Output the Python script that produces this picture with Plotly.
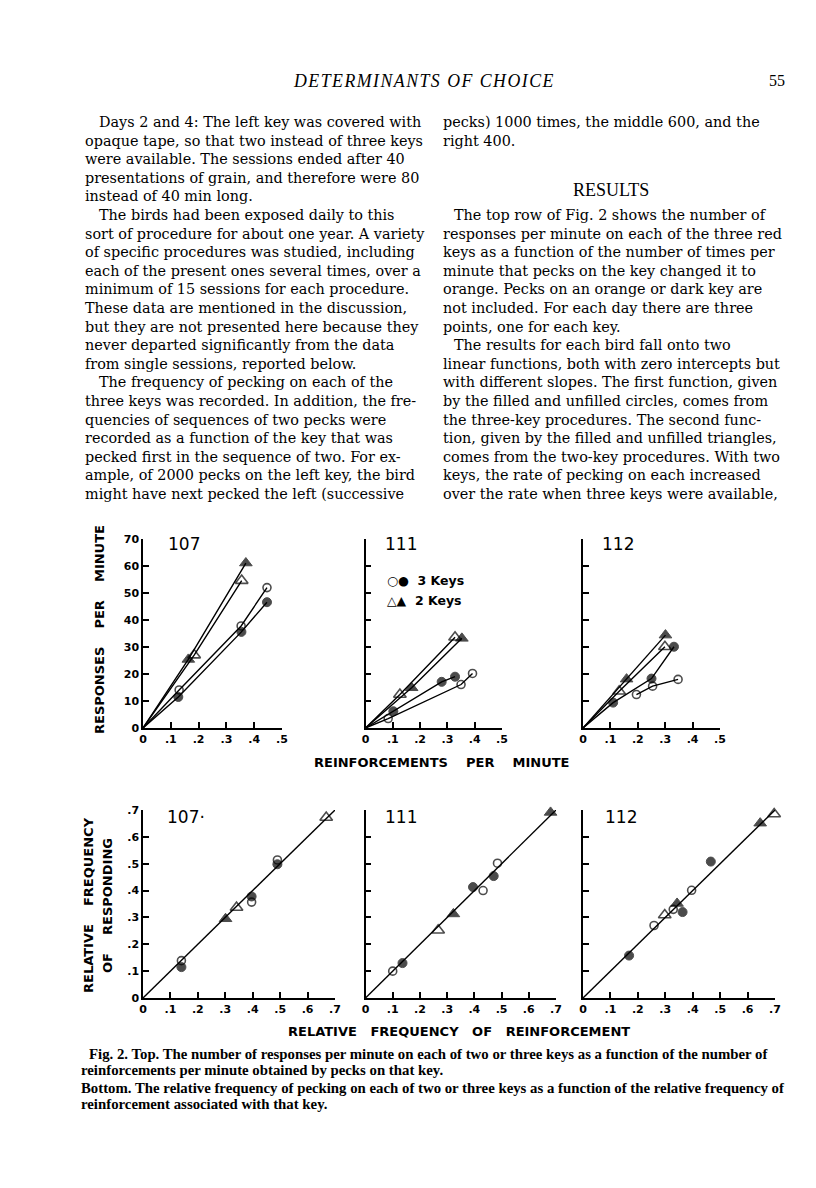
import plotly.graph_objects as go

W, H = 816, 1188

# ---------------- data ----------------
# Top row: responses per minute vs reinforcements per minute (origin included: zero-intercept lines)
t107_tri_filled_x = [0, 0.163, 0.370]; t107_tri_filled_y = [0, 25.4, 61.1]
t107_tri_open_x = [0, 0.184, 0.355];   t107_tri_open_y = [0, 27.0, 54.6]
t107_circ_open_x = [0, 0.130, 0.353, 0.446]; t107_circ_open_y = [0, 14.1, 37.8, 52.0]
t107_circ_filled_x = [0, 0.127, 0.354, 0.446]; t107_circ_filled_y = [0, 11.5, 35.6, 46.6]

t111_tri_open_x = [0, 0.126, 0.328];   t111_tri_open_y = [0, 12.4, 33.6]
t111_tri_filled_x = [0, 0.169, 0.353]; t111_tri_filled_y = [0, 14.9, 33.2]
t111_circ_open_x = [0, 0.083, 0.350, 0.392]; t111_circ_open_y = [0, 3.5, 16.1, 20.2]
t111_circ_filled_x = [0, 0.102, 0.279, 0.328]; t111_circ_filled_y = [0, 6.2, 17.1, 19.0]

t112_tri_filled_x = [0, 0.159, 0.301]; t112_tri_filled_y = [0, 18.1, 34.4]
t112_tri_open_x = [0, 0.132, 0.299];   t112_tri_open_y = [0, 13.6, 30.1]
t112_circ_filled_x = [0, 0.110, 0.250, 0.332]; t112_circ_filled_y = [0, 9.4, 18.3, 30.1]
t112_circ_open_x = [0.195, 0.254, 0.347]; t112_circ_open_y = [12.4, 15.5, 18.0]

# Bottom row: relative frequency of responding vs relative frequency of reinforcement
b107_circ_open_x = [0.140, 0.396, 0.490]; b107_circ_open_y = [0.139, 0.357, 0.514]
b107_circ_filled_x = [0.140, 0.396, 0.490]; b107_circ_filled_y = [0.115, 0.378, 0.498]
b107_tri_open_x = [0.341, 0.668]; b107_tri_open_y = [0.337, 0.672]
b107_tri_filled_x = [0.301, 0.707]; b107_tri_filled_y = [0.295, 0.696]
b107_line = [0, 0.71]

b111_circ_open_x = [0.100, 0.432, 0.485]; b111_circ_open_y = [0.100, 0.400, 0.502]
b111_circ_filled_x = [0.136, 0.395, 0.471]; b111_circ_filled_y = [0.130, 0.413, 0.454]
b111_tri_open_x = [0.267, 0.726]; b111_tri_open_y = [0.252, 0.754]
b111_tri_filled_x = [0.323, 0.680]; b111_tri_filled_y = [0.313, 0.691]
b111_line = [0, 0.74]

b112_circ_open_x = [0.259, 0.329, 0.396]; b112_circ_open_y = [0.270, 0.330, 0.401]
b112_circ_filled_x = [0.168, 0.363, 0.466]; b112_circ_filled_y = [0.158, 0.320, 0.508]
b112_tri_open_x = [0.298, 0.697]; b112_tri_open_y = [0.309, 0.685]
b112_tri_filled_x = [0.343, 0.646]; b112_tri_filled_y = [0.352, 0.651]
b112_line = [0, 0.70]

top_xticks = [0, 0.1, 0.2, 0.3, 0.4, 0.5]
top_xticktext = ["0", ".1", ".2", ".3", ".4", ".5"]
top_yticks = [0, 10, 20, 30, 40, 50, 60, 70]
top_yticktext = ["0", "10", "20", "30", "40", "50", "60", "70"]
bot_ticks = [0, 0.1, 0.2, 0.3, 0.4, 0.5, 0.6, 0.7]
bot_ticktext = ["0", ".1", ".2", ".3", ".4", ".5", ".6", ".7"]

left_col = [
    "Days 2 and 4: The left key was covered with",
    "opaque tape, so that two instead of three keys",
    "were available. The sessions ended after 40",
    "presentations of grain, and therefore were 80",
    "instead of 40 min long.",
    "The birds had been exposed daily to this",
    "sort of procedure for about one year. A variety",
    "of specific procedures was studied, including",
    "each of the present ones several times, over a",
    "minimum of 15 sessions for each procedure.",
    "These data are mentioned in the discussion,",
    "but they are not presented here because they",
    "never departed significantly from the data",
    "from single sessions, reported below.",
    "The frequency of pecking on each of the",
    "three keys was recorded. In addition, the fre-",
    "quencies of sequences of two pecks were",
    "recorded as a function of the key that was",
    "pecked first in the sequence of two. For ex-",
    "ample, of 2000 pecks on the left key, the bird",
    "might have next pecked the left (successive",
]
left_indent = {0, 5, 14}
right_col_a = [
    "pecks) 1000 times, the middle 600, and the",
    "right 400.",
]
right_col_b = [
    "The top row of Fig. 2 shows the number of",
    "responses per minute on each of the three red",
    "keys as a function of the number of times per",
    "minute that pecks on the key changed it to",
    "orange. Pecks on an orange or dark key are",
    "not included. For each day there are three",
    "points, one for each key.",
    "The results for each bird fall onto two",
    "linear functions, both with zero intercepts but",
    "with different slopes. The first function, given",
    "by the filled and unfilled circles, comes from",
    "the three-key procedures. The second func-",
    "tion, given by the filled and unfilled triangles,",
    "comes from the two-key procedures. With two",
    "keys, the rate of pecking on each increased",
    "over the rate when three keys were available,",
]
right_b_indent = {0, 7}
caption = [
    "Fig. 2. Top. The number of responses per minute on each of two or three keys as a function of the number of",
    "reinforcements per minute obtained by pecks on that key.",
    "Bottom. The relative frequency of pecking on each of two or three keys as a function of the relative frequency of",
    "reinforcement associated with that key.",
]

# ---------------- figure ----------------
fig = go.Figure()

# the page body adds an 8px offset; compensate so page positions match
OX, OY = -8, -8

def px(x):
    return (x + OX) / W

def py(y):
    return 1 - (y + OY) / H

STY = {
    "circ_open": dict(symbol="circle-open", size=8, line=dict(width=1.6, color="black"), color="black"),
    "circ_filled": dict(symbol="circle", size=9, color="black", line=dict(width=1, color="black")),
    "tri_open": dict(symbol="triangle-up-open", size=11, line=dict(width=1.6, color="black"), color="black"),
    "tri_filled": dict(symbol="triangle-up", size=11, color="black", line=dict(width=1, color="black")),
}

def add_series(x, y, kind, ax, lines=True):
    sizes = [0 if (xx == 0 and yy == 0) else STY[kind]["size"] for xx, yy in zip(x, y)]
    m = dict(STY[kind]); m["size"] = sizes
    fig.add_trace(go.Scatter(
        x=x, y=y, mode="lines+markers" if lines else "markers",
        line=dict(color="black", width=1.4), marker=m,
        xaxis="x" + ax, yaxis="y" + ax, cliponaxis=False, showlegend=False,
        hoverinfo="skip"))

top = [
    ("", [(t107_tri_filled_x, t107_tri_filled_y, "tri_filled"), (t107_tri_open_x, t107_tri_open_y, "tri_open"),
          (t107_circ_open_x, t107_circ_open_y, "circ_open"), (t107_circ_filled_x, t107_circ_filled_y, "circ_filled")]),
    ("2", [(t111_tri_filled_x, t111_tri_filled_y, "tri_filled"), (t111_tri_open_x, t111_tri_open_y, "tri_open"),
           (t111_circ_open_x, t111_circ_open_y, "circ_open"), (t111_circ_filled_x, t111_circ_filled_y, "circ_filled")]),
    ("3", [(t112_tri_filled_x, t112_tri_filled_y, "tri_filled"), (t112_tri_open_x, t112_tri_open_y, "tri_open"),
           (t112_circ_open_x, t112_circ_open_y, "circ_open"), (t112_circ_filled_x, t112_circ_filled_y, "circ_filled")]),
]
for ax, series in top:
    for x, y, k in series:
        add_series(x, y, k, ax)

bottom = [
    ("4", b107_line, [(b107_circ_open_x, b107_circ_open_y, "circ_open"), (b107_circ_filled_x, b107_circ_filled_y, "circ_filled"),
                      (b107_tri_open_x, b107_tri_open_y, "tri_open"), (b107_tri_filled_x, b107_tri_filled_y, "tri_filled")]),
    ("5", b111_line, [(b111_circ_open_x, b111_circ_open_y, "circ_open"), (b111_circ_filled_x, b111_circ_filled_y, "circ_filled"),
                      (b111_tri_open_x, b111_tri_open_y, "tri_open"), (b111_tri_filled_x, b111_tri_filled_y, "tri_filled")]),
    ("6", b112_line, [(b112_circ_open_x, b112_circ_open_y, "circ_open"), (b112_circ_filled_x, b112_circ_filled_y, "circ_filled"),
                      (b112_tri_open_x, b112_tri_open_y, "tri_open"), (b112_tri_filled_x, b112_tri_filled_y, "tri_filled")]),
]
for ax, ln, series in bottom:
    fig.add_trace(go.Scatter(x=ln, y=ln, mode="lines", line=dict(color="black", width=1.4),
                             xaxis="x" + ax, yaxis="y" + ax, cliponaxis=False, showlegend=False, hoverinfo="skip"))
    for x, y, k in series:
        add_series(x, y, k, ax, lines=False)

tickfont = dict(family="DejaVu Sans", size=11, color="black", weight="bold")
base = dict(showline=True, linecolor="black", linewidth=1.5, ticks="inside", ticklen=6, tickwidth=1.5,
            tickcolor="black", showgrid=False, zeroline=False, tickfont=tickfont, fixedrange=True,
            automargin=False)

top_y_dom = [py(728), py(539)]
bot_y_dom = [py(998), py(810)]
top_x_doms = [(143, 282), (365.5, 502), (583, 720)]
bot_x_doms = [(143, 335), (365.5, 556), (583, 775)]

layout_axes = {}
for i, (a, b) in enumerate(top_x_doms):
    n = "" if i == 0 else str(i + 1)
    layout_axes["xaxis" + n] = dict(base, domain=[px(a), px(b)], range=[0, 0.5], tickvals=top_xticks,
                                    ticktext=top_xticktext, anchor="y" + n)
    layout_axes["yaxis" + n] = dict(base, domain=top_y_dom, range=[0, 70], tickvals=top_yticks,
                                    ticktext=top_yticktext, showticklabels=(i == 0), anchor="x" + n)
for i, (a, b) in enumerate(bot_x_doms):
    n = str(i + 4)
    layout_axes["xaxis" + n] = dict(base, domain=[px(a), px(b)], range=[0, 0.7], tickvals=bot_ticks,
                                    ticktext=bot_ticktext, anchor="y" + n)
    layout_axes["yaxis" + n] = dict(base, domain=bot_y_dom, range=[0, 0.7], tickvals=bot_ticks,
                                    ticktext=bot_ticktext, showticklabels=(i == 0), anchor="x" + n)

ann = []
def text(x, y, s, size=16, family="Liberation Serif", anchor="left", angle=0, weight="normal", style="normal"):
    ann.append(dict(x=px(x), y=py(y), xref="paper", yref="paper", text=s, showarrow=False,
                    xanchor=anchor, yanchor="middle", textangle=angle, borderpad=0,
                    font=dict(family=family, size=size, color="black", weight=weight, style=style)))

# header
hs = "\u200a"
text(423, 81, hs.join("DETERMINANTS OF CHOICE"), size=17.8, anchor="center", style="italic")
text(786, 81, "55", size=16, anchor="right")

# body
LH = 18.6
BS = 14.4
BF = "DejaVu Serif"
for i, s in enumerate(left_col):
    text(97.5 if i in left_indent else 84, 122 + i * LH, s, size=BS, family=BF)
for i, s in enumerate(right_col_a):
    text(441.5, 122 + i * LH, s, size=BS, family=BF)
text(611, 190, "RESULTS", size=18, anchor="center")
for i, s in enumerate(right_col_b):
    text(453 if i in right_b_indent else 441.5, 215 + i * LH, s, size=BS, family=BF)

# caption
cap_y = [1054, 1070, 1088, 1104]
cap_x = [88, 80, 80, 80]
for s, x, y in zip(caption, cap_x, cap_y):
    text(x, y, s, size=14.8, weight="bold")

# axis titles
sans = "DejaVu Sans"
nb = "\u00a0\u00a0\u00a0\u00a0"
nb3 = "\u00a0\u00a0\u00a0"
text(99, 630, "RESPONSES" + nb + "PER" + nb + "MINUTE", size=13, family=sans, anchor="center", angle=-90, weight="bold")
text(441, 762, "REINFORCEMENTS" + nb + "PER" + nb + "MINUTE", size=13, family=sans, anchor="center", weight="bold")
text(88, 905, "RELATIVE" + nb + "FREQUENCY", size=13, family=sans, anchor="center", angle=-90, weight="bold")
text(108, 906, "OF" + nb + "RESPONDING", size=13, family=sans, anchor="center", angle=-90, weight="bold")
text(459, 1031, "RELATIVE" + nb3 + "FREQUENCY" + nb3 + "OF" + nb3 + "REINFORCEMENT", size=13, family=sans, anchor="center", weight="bold")

# panel labels
text(184, 544, "107", size=17, family=sans, anchor="center")
text(401, 544, "111", size=17, family=sans, anchor="center")
text(618, 544, "112", size=17, family=sans, anchor="center")
text(186, 817, "107·", size=17, family=sans, anchor="center")
text(401, 817, "111", size=17, family=sans, anchor="center")
text(621, 817, "112", size=17, family=sans, anchor="center")

# legend
text(386, 581, "○●\u00a0\u00a03 Keys", size=12.5, family=sans, weight="bold")
text(386, 600, "△▲\u00a0\u00a02 Keys", size=12.5, family=sans, weight="bold")

fig.update_layout(width=W, height=H, autosize=False,
                  margin=dict(l=0, r=0, t=0, b=0, pad=0, autoexpand=False),
                  paper_bgcolor="white", plot_bgcolor="white", showlegend=False,
                  annotations=ann, **layout_axes)

fig.write_html("out.html")
